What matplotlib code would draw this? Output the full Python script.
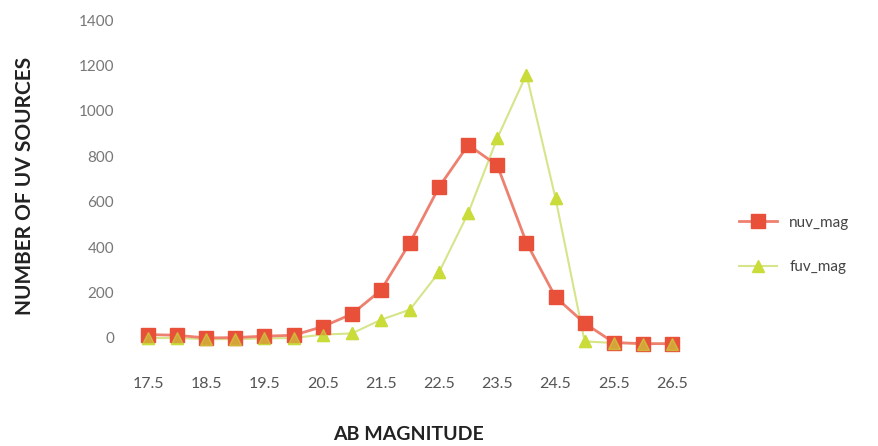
import matplotlib
matplotlib.use("Agg")
import matplotlib.pyplot as plt
import numpy as np
from matplotlib.lines import Line2D

plt.rcParams['font.family'] = ['Lato', 'DejaVu Sans']

magnitudes = [17.5, 18, 18.5, 19, 19.5, 20, 20.5, 21, 21.5, 22, 22.5, 23, 23.5, 24, 24.5, 25, 25.5, 26, 26.5]
nuv_mag = [15, 12, 0, 2, 8, 12, 50, 105, 210, 420, 665, 850, 760, 420, 180, 65, -20, -25, -25]
fuv_mag = [0, 0, -5, -5, -2, 0, 15, 20, 80, 125, 290, 550, 880, 1160, 615, -15, -22, -25, -25]
tick_labels = ["17.5", "18.5", "19.5", "20.5", "21.5", "22.5", "23.5", "24.5", "25.5", "26.5"]
yticks = [0, 200, 400, 600, 800, 1000, 1200, 1400]

W, H = 879, 446
fig = plt.figure(figsize=(W / 100, H / 100), dpi=100)
left, right, top, bottom = 133.5, 686.5, 20, 360.7
ax = fig.add_axes([left / W, (H - bottom) / H, (right - left) / W, (bottom - top) / H])

x = np.arange(len(magnitudes))
nuv_c = '#e8503a'
fuv_c = '#c9dc3a'
ax.plot(x, fuv_mag, color='#d6e48a', lw=1.5, marker='^', ms=8,
        mfc=fuv_c, mec=fuv_c, label='fuv_mag', zorder=2)
ax.plot(x, nuv_mag, color='#ee8070', lw=2, marker='s', ms=10,
        mfc=nuv_c, mec=nuv_c, label='nuv_mag', zorder=3)
ax.plot(x, fuv_mag, color='none', marker='^', ms=8, mfc=fuv_c, mec=fuv_c, alpha=0.6, zorder=4)

ax.set_xlim(-0.5, len(magnitudes) - 0.5)
ax.set_ylim(-100, 1400)
ax.set_yticks(yticks)
ax.set_yticklabels([str(v) for v in yticks], color='#777777', fontsize=11)
ax.set_xticks(x[::2])
ax.set_xticklabels(tick_labels, color='#555555', fontsize=11.5)
ax.tick_params(axis='y', length=0, pad=14)
ax.tick_params(axis='x', length=0, pad=12)
for s in ax.spines.values():
    s.set_visible(False)

fig.text(408 / W, 1 - 434 / H, 'AB MAGNITUDE', ha='center', va='center',
         fontsize=14, fontweight='bold', color='#222222')
fig.text(25 / W, 1 - 186 / H, 'NUMBER OF UV SOURCES', ha='center', va='center',
         rotation=90, fontsize=15, fontweight='bold', color='#222222')

handles = [Line2D([], [], color='#ee8070', lw=2, marker='s', ms=10, mfc=nuv_c, mec=nuv_c),
           Line2D([], [], color='#d6e48a', lw=1.5, marker='^', ms=8, mfc=fuv_c, mec=fuv_c)]
fig.legend(handles, ['nuv_mag', 'fuv_mag'], loc='center left',
           bbox_to_anchor=(725 / W, 1 - 245 / H), frameon=False,
           fontsize=11, labelcolor='#444444', handlelength=2.5, labelspacing=2.0)

fig.savefig('out.png', dpi=100)
